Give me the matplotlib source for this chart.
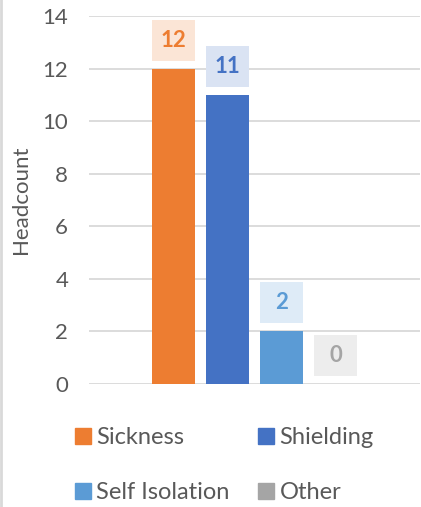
import matplotlib.pyplot as plt
from matplotlib.patches import Patch, Rectangle

series = ["Sickness", "Shielding", "Self Isolation", "Other"]
headcount = [12, 11, 2, 0]
colors = ["#ED7D31", "#4472C4", "#5B9BD5", "#A5A5A5"]
label_fill = ["#FBE5D6", "#DAE3F3", "#DEEBF7", "#EDEDED"]

plt.rcParams['font.family'] = ['Lato', 'DejaVu Sans']

fig = plt.figure(figsize=(4.21, 5.07), dpi=100)
ax = fig.add_axes([89 / 421, 1 - 384 / 507, (420 - 89) / 421, (384 - 16) / 507])

width = 0.13
gap = 0.033
px = 14 / 368  # data units per pixel on y
xs = [(i - 1.5) * (width + gap) for i in range(len(series))]
for x, v, c, f in zip(xs, headcount, colors, label_fill):
    ax.bar(x, v, width=width, color=c, zorder=3)
    y0 = v + 8 * px
    h = 41 * px
    ax.add_patch(Rectangle((x - width / 2, y0), width, h, fc=f, ec="none", zorder=4, clip_on=False))
    ax.text(x, y0 + h / 2, str(v), ha="center", va="center", color=c, fontsize=16,
            fontweight="bold", zorder=5)

ax.set_xlim(-0.5, 0.5)
ax.set_ylim(0, 14)
ax.set_yticks(range(0, 15, 2))
ax.set_xticks([])
ax.yaxis.grid(True, color="#D9D9D9", linewidth=1.3, zorder=0)
for s in ax.spines.values():
    s.set_visible(False)
ax.tick_params(axis="y", length=0, pad=15, labelsize=16, labelcolor="#595959")
ax.set_ylabel("Headcount", fontsize=16, color="#595959", labelpad=8)

order = [0, 2, 1, 3]
handles = [Patch(color=colors[i], label=series[i]) for i in order]
fig.legend(handles=handles, ncol=2, loc="upper left", bbox_to_anchor=(54 / 421, 1 - 406 / 507),
           frameon=False, fontsize=17, labelcolor="#595959", handlelength=0.65, handleheight=0.65,
           handletextpad=0.25, columnspacing=1.2, labelspacing=1.43)

fig.add_artist(plt.Line2D([1 / 421, 1 / 421], [0, 1], color="#D9D9D9", linewidth=2))

fig.savefig("out.png", dpi=100)
